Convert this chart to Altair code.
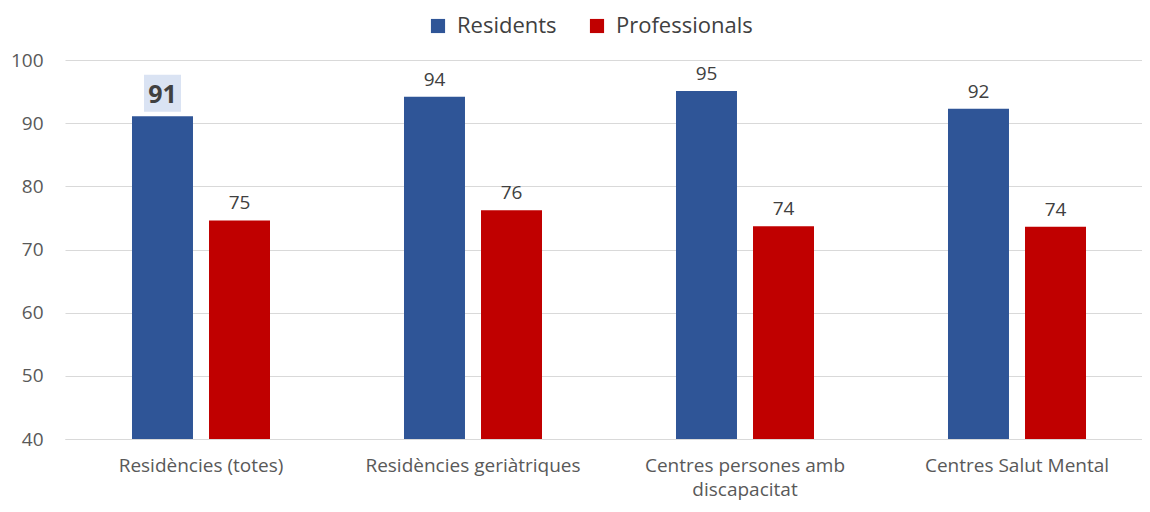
import altair as alt
import pandas as pd

CATEGORIES = ["Residències (totes)", "Residències geriàtriques",
              "Centres persones amb discapacitat", "Centres Salut Mental"]
SERIES = ["Residents", "Professionals"]
RESIDENTS = [91.1, 94.2, 95.1, 92.3]
PROFESSIONALS = [74.6, 76.2, 73.7, 73.6]
LABELS_RES = ["91", "94", "95", "92"]
LABELS_PRO = ["75", "76", "74", "74"]
Y_TICKS = [40, 50, 60, 70, 80, 90, 100]
Y_MIN, Y_MAX = 40, 100
COLORS = ["#2f5597", "#c00000"]

rows = []
for i, c in enumerate(CATEGORIES):
    rows.append({"category": c, "series": SERIES[0], "value": RESIDENTS[i],
                 "label": LABELS_RES[i], "hl": i == 0})
    rows.append({"category": c, "series": SERIES[1], "value": PROFESSIONALS[i],
                 "label": LABELS_PRO[i], "hl": False})
df = pd.DataFrame(rows)

FONT = "Open Sans"
W, H = 1077, 379

x = alt.X("category:N", sort=CATEGORIES, title=None,
          scale=alt.Scale(paddingInner=0, paddingOuter=0, range=[0, 1088]),
          axis=alt.Axis(labelAngle=0, ticks=False, domainColor="#d9d9d9",
                        labelFont=FONT, labelFontSize=19, labelColor="#595959",
                        labelPadding=17, labelLineHeight=24, labelLimit=400,
                        labelExpr="datum.label == 'Centres persones amb discapacitat' ? "
                                  "['Centres persones amb', 'discapacitat'] : datum.label"))
xo = alt.XOffset("series:N", sort=SERIES,
                 scale=alt.Scale(paddingInner=0.208, paddingOuter=0.87))
y = alt.Y("value:Q", title=None,
          scale=alt.Scale(domain=[Y_MIN, Y_MAX], zero=False, nice=False),
          axis=alt.Axis(values=Y_TICKS, domain=False, ticks=False, grid=True,
                        gridColor="#d9d9d9", labelFont=FONT, labelFontSize=19,
                        labelColor="#595959", labelPadding=22))

base = alt.Chart(df).encode(x=x, xOffset=xo)

bars = base.mark_bar().encode(
    y=y, y2=alt.datum(Y_MIN),
    color=alt.Color("series:N", sort=SERIES,
                    scale=alt.Scale(domain=SERIES, range=COLORS),
                    legend=alt.Legend(title=None, orient="none", direction="horizontal",
                                      legendX=362, legendY=-45,
                                      symbolType="square", symbolSize=200,
                                      symbolStrokeWidth=0, symbolOpacity=1,
                                      labelFont=FONT, labelFontSize=22,
                                      labelColor="#404040", labelOffset=8,
                                      columnPadding=29)),
)

hlbox = base.transform_filter("datum.hl").mark_square(
    size=37 * 37, color="#dae3f3", opacity=1, yOffset=-23
).encode(y=alt.Y("value:Q"))

labels = base.transform_filter("!datum.hl").mark_text(
    font=FONT, fontSize=19, color="#404040", baseline="alphabetic", dy=-11
).encode(y=alt.Y("value:Q"), text="label:N")

labels_hl = base.transform_filter("datum.hl").mark_text(
    font=FONT, fontSize=25, fontWeight="bold", color="#404040",
    baseline="alphabetic", dy=-13
).encode(y=alt.Y("value:Q"), text="label:N")

chart = alt.layer(bars, hlbox, labels, labels_hl).properties(
    width=W, height=H,
    autosize=alt.AutoSizeParams(type="none"),
    padding={"left": 57, "top": 52, "right": 0, "bottom": 65},
).configure_view(stroke=None).configure_axis(labelFont=FONT)

chart.save("out.html", embed_options={"renderer": "svg", "actions": False})
